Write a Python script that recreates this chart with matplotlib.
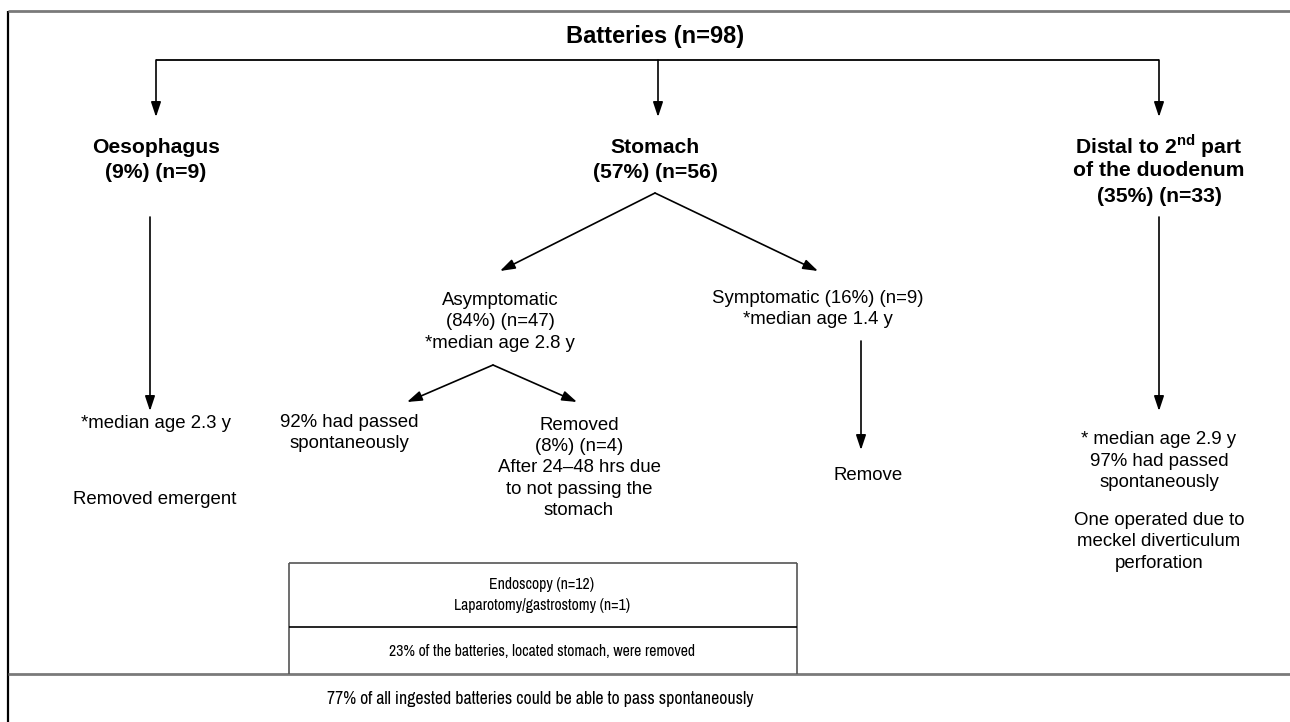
import matplotlib.pyplot as plt
from matplotlib import font_manager as fm

plt.rcParams['font.family'] = ['Liberation Sans', 'DejaVu Sans']

# text of the flowchart
root = "Batteries (n=98)"
sites = ["Oesophagus\n(9%) (n=9)",
         "Stomach\n(57%) (n=56)"]
distal_lines = ["Distal to 2$^{\\mathregular{nd}}$ part", "of the duodenum", "(35%) (n=33)"]
stomach_split = ["Asymptomatic\n(84%) (n=47)\n*median age 2.8 y",
                 "Symptomatic (16%) (n=9)\n*median age 1.4 y"]
asym_split = ["92% had passed\nspontaneously",
              "Removed\n(8%) (n=4)\nAfter 24\u201348 hrs due\nto not passing the\nstomach"]
symptomatic_out = "Remove"
oeso_notes = ["*median age 2.3 y", "Removed emergent"]
distal_notes = ["* median age 2.9 y\n97% had passed\nspontaneously",
                "One operated due to\nmeckel diverticulum\nperforation"]
box_rows = ["Endoscopy (n=12)\nLaparotomy/gastrostomy (n=1)",
            "23% of the batteries, located stomach, were removed"]
footer = "77% of all ingested batteries could be able to pass spontaneously"

W, H = 1290, 722
fig = plt.figure(figsize=(W / 100, H / 100), dpi=100)
ax = fig.add_axes([0, 0, 1, 1])
ax.set_xlim(0, W)
ax.set_ylim(H, 0)
ax.axis('off')

gray = '#7a7a7a'

# narrow font for the box texts if there is one, else a smaller regular one
narrow_path = None
for f in fm.fontManager.ttflist:
    if 'Narrow' in f.name and f.weight in (400, 'normal', 'regular') and f.style == 'normal':
        narrow_path = f.fname
        break
if narrow_path:
    box_size, foot_size = 11.3, 12.8
else:
    box_size, foot_size = 10, 11.5


def narrow_props(size):
    if narrow_path:
        return fm.FontProperties(fname=narrow_path, size=size)
    return fm.FontProperties(family=['Liberation Sans', 'DejaVu Sans'], size=size)


def line(xs, ys, c='black', lw=1.3):
    ax.plot(xs, ys, color=c, lw=lw, solid_capstyle='butt')


def arrow(x0, y0, x1, y1):
    ax.annotate('', xy=(x1, y1), xytext=(x0, y0),
                arrowprops=dict(arrowstyle='-|>,head_length=0.9,head_width=0.3',
                                color='black', lw=1.2, shrinkA=0, shrinkB=0))


def txt(x, y, s, size=13.4, bold=False, ls=1.3, props=None):
    if props is not None:
        ax.text(x, y, s, ha='center', va='center', linespacing=ls, fontproperties=props)
        return
    ax.text(x, y, s, ha='center', va='center', fontsize=size,
            fontweight='bold' if bold else 'normal', linespacing=ls)


# outer frame
line([8, 8], [11, H], c='black', lw=1.6)
line([8, W], [11, 11], c=gray, lw=2)
line([8, W], [674, 674], c=gray, lw=2)

# root and first split
txt(655, 36, root, size=17, bold=True)
line([156, 1159], [60, 60])
for x in (156, 658, 1159):
    arrow(x, 60, x, 117)

txt(156, 160, sites[0], size=15.2, bold=True, ls=1.45)
txt(655, 160, sites[1], size=15.2, bold=True, ls=1.45)
for i, s in enumerate(distal_lines):
    txt(1159, 146 + 25 * i, s, size=15.2, bold=True)

# oesophagus branch
arrow(150, 217, 150, 411)
txt(156, 424, oeso_notes[0])
txt(155, 500, oeso_notes[1])

# stomach branch
arrow(655, 193, 500, 271)
arrow(655, 193, 818, 271)
txt(500, 322, stomach_split[0], ls=1.33)
txt(818, 309, stomach_split[1], ls=1.33)

arrow(493, 365, 407, 402)
arrow(493, 365, 577, 402)
txt(349, 433, asym_split[0], ls=1.33)
txt(579, 468, asym_split[1], ls=1.33)

arrow(861, 341, 861, 450)
txt(868, 476, symptomatic_out)

# distal branch
arrow(1159, 217, 1159, 411)
txt(1159, 461, distal_notes[0], ls=1.33)
txt(1159, 542, distal_notes[1], ls=1.33)

# removal box
line([289, 797], [563, 563], c='#555555', lw=1.2)
line([289, 289], [563, 674], c='#555555', lw=1.2)
line([797, 797], [563, 674], c='#555555', lw=1.2)
line([289, 797], [627, 627], c='black', lw=1.2)
txt(542, 595, box_rows[0], ls=1.55, props=narrow_props(box_size))
txt(542, 652, box_rows[1], props=narrow_props(box_size))

txt(540, 699, footer, props=narrow_props(foot_size))

fig.savefig('out.png', dpi=100, facecolor='white')
